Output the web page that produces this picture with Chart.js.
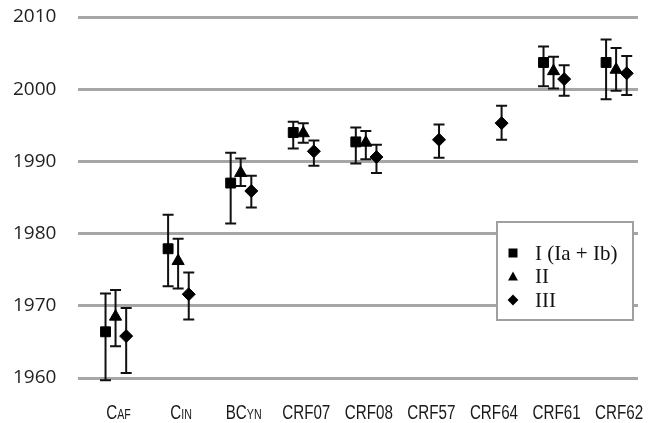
<!DOCTYPE html>
<html lang="en">
<head>
<meta charset="UTF-8">
<title>Dates by group</title>
<script src="https://cdn.jsdelivr.net/npm/chart.js"></script>
<style>
  html, body { margin: 0; padding: 0; background: #fff; }
  .chart-container { position: relative; width: 648px; height: 423px; }
</style>
</head>
<body>
<div class="chart-container"><canvas id="datesChart"></canvas></div>
<script>
// categories: main text + small-caps part (drawn smaller, like a subscript)
const categories   = ['CAF', 'CIN', 'BCYN', 'CRF07', 'CRF08', 'CRF57', 'CRF64', 'CRF61', 'CRF62'];
const categoryMain = ['C', 'C', 'BC', 'CRF07', 'CRF08', 'CRF57', 'CRF64', 'CRF61', 'CRF62'];
const categorySub  = ['AF', 'IN', 'YN', '', '', '', '', '', ''];

const seriesNames = ['I (Ia + Ib)', 'II', 'III'];

// series I (squares)
const seriesI     = [1966.4, 1977.9, 1987.0, 1994.0, 1992.7, null, null, 2003.7, 2003.7];
const seriesILow  = [1959.7, 1972.7, 1981.4, 1991.8, 1989.7, null, null, 2000.4, 1998.6];
const seriesIHigh = [1971.7, 1982.6, 1991.2, 1995.5, 1994.7, null, null, 2005.9, 2006.9];

// series II (triangles)
const seriesII     = [1968.5, 1976.2, 1988.4, 1993.9, 1992.6, null, null, 2002.5, 2002.7];
const seriesIILow  = [1964.4, 1972.4, 1986.6, 1992.6, 1990.3, null, null, 2000.1, 1999.8];
const seriesIIHigh = [1972.2, 1979.3, 1990.4, 1995.3, 1994.2, null, null, 2004.5, 2005.7];

// series III (diamonds)
const seriesIII     = [1965.8, 1971.6, 1985.9, 1991.4, 1990.6, 1993.0, 1995.3, 2001.4, 2002.2];
const seriesIIILow  = [1960.7, 1968.1, 1983.6, 1989.4, 1988.4, 1990.5, 1993.0, 1999.1, 1999.2];
const seriesIIIHigh = [1969.7, 1974.6, 1988.0, 1992.9, 1992.3, 1995.1, 1997.7, 2003.3, 2004.6];

const yTickValues = [1960, 1970, 1980, 1990, 2000, 2010];

// small horizontal shift of each series inside its category
const groupShift = [-0.16, 0, 0.17];
const pointStyles = ['rect', 'triangle', 'rectRot'];
const pointRadii = [7, 7, 6.5];

function buildPoints(values, low, high, shift) {
    const pts = [];
    values.forEach((v, i) => {
        if (v === null) return;
        pts.push({ x: i + shift, y: v, lo: low[i], hi: high[i] });
    });
    return pts;
}

const allSeries = [
    buildPoints(seriesI, seriesILow, seriesIHigh, groupShift[0]),
    buildPoints(seriesII, seriesIILow, seriesIIHigh, groupShift[1]),
    buildPoints(seriesIII, seriesIIILow, seriesIIIHigh, groupShift[2])
];

// error bars, drawn under the markers
const errorBars = {
    id: 'errorBars',
    beforeDatasetsDraw(chart) {
        const ctx = chart.ctx;
        const y = chart.scales.y;
        ctx.save();
        ctx.strokeStyle = '#111';
        ctx.lineWidth = 2;
        chart.data.datasets.forEach((ds, d) => {
            const meta = chart.getDatasetMeta(d);
            meta.data.forEach((el, j) => {
                const p = ds.data[j];
                const top = y.getPixelForValue(p.hi);
                const bot = y.getPixelForValue(p.lo);
                const cap = 5.5;
                ctx.beginPath();
                ctx.moveTo(el.x, top); ctx.lineTo(el.x, bot);
                ctx.moveTo(el.x - cap, top); ctx.lineTo(el.x + cap, top);
                ctx.moveTo(el.x - cap, bot); ctx.lineTo(el.x + cap, bot);
                ctx.stroke();
            });
        });
        ctx.restore();
    }
};

function drawMarker(ctx, style, x, y, s) {
    ctx.beginPath();
    if (style === 'rect') {
        ctx.rect(x - s / 2, y - s / 2, s, s);
    } else if (style === 'triangle') {
        ctx.moveTo(x, y - s * 0.55);
        ctx.lineTo(x + s * 0.55, y + s * 0.45);
        ctx.lineTo(x - s * 0.55, y + s * 0.45);
        ctx.closePath();
    } else {
        ctx.moveTo(x, y - s * 0.6);
        ctx.lineTo(x + s * 0.6, y);
        ctx.lineTo(x, y + s * 0.6);
        ctx.lineTo(x - s * 0.6, y);
        ctx.closePath();
    }
    ctx.fill();
}

// category labels with small caps part + boxed legend
const labelsAndLegend = {
    id: 'labelsAndLegend',
    afterDraw(chart) {
        const ctx = chart.ctx;
        const xs = chart.scales.x;
        const area = chart.chartArea;
        const bigFont = '20px "Liberation Sans", Arial, sans-serif';
        const smallFont = '14px "Liberation Sans", Arial, sans-serif';
        const squeeze = 0.76;
        const baseY = area.bottom + 41;

        ctx.save();
        ctx.fillStyle = '#1a1a1a';
        ctx.textBaseline = 'alphabetic';
        categories.forEach((c, i) => {
            ctx.font = bigFont;
            const wMain = ctx.measureText(categoryMain[i]).width;
            ctx.font = smallFont;
            const wSub = categorySub[i] ? ctx.measureText(categorySub[i]).width : 0;
            const total = (wMain + wSub) * squeeze;
            const cx = xs.getPixelForValue(i) + 3;
            ctx.save();
            ctx.translate(cx - total / 2, baseY);
            ctx.scale(squeeze, 1);
            ctx.font = bigFont;
            ctx.fillText(categoryMain[i], 0, 0);
            if (categorySub[i]) {
                ctx.font = smallFont;
                ctx.fillText(categorySub[i], wMain, 0);
            }
            ctx.restore();
        });
        ctx.restore();

        // legend box
        const left = 497, top = 222, w = 136, h = 98;
        ctx.save();
        ctx.fillStyle = '#fff';
        ctx.fillRect(left, top, w, h);
        ctx.strokeStyle = '#a0a0a0';
        ctx.lineWidth = 2;
        ctx.strokeRect(left, top, w, h);
        ctx.font = '21px "Liberation Serif", "Times New Roman", serif';
        ctx.textBaseline = 'middle';
        seriesNames.forEach((name, k) => {
            const ry = top + 31 + k * 23.5;
            ctx.fillStyle = '#000';
            drawMarker(ctx, pointStyles[k], left + 16, ry, 9);
            ctx.fillStyle = '#111';
            ctx.fillText(name, left + 38, ry + 1);
        });
        ctx.restore();
    }
};

const ctx = document.getElementById('datesChart').getContext('2d');
new Chart(ctx, {
    type: 'scatter',
    data: {
        datasets: allSeries.map((pts, k) => ({
            label: seriesNames[k],
            data: pts,
            pointStyle: pointStyles[k],
            pointRadius: pointRadii[k],
            pointHoverRadius: pointRadii[k],
            backgroundColor: '#000',
            borderColor: '#000',
            pointBorderWidth: 1
        }))
    },
    options: {
        responsive: true,
        maintainAspectRatio: false,
        animation: false,
        layout: { padding: { top: 17, right: 10, bottom: 45, left: 13 } },
        plugins: {
            legend: { display: false },
            tooltip: { enabled: false }
        },
        scales: {
            x: {
                type: 'linear',
                display: false,
                min: -0.6,
                max: 8.35
            },
            y: {
                min: 1960,
                max: 2010,
                afterFit(scale) { scale.width = 65; },
                afterBuildTicks(scale) {
                    scale.ticks = yTickValues.map(v => ({ value: v }));
                },
                border: { display: false },
                grid: {
                    color: '#a6a6a6',
                    lineWidth: 3,
                    drawTicks: false
                },
                ticks: {
                    padding: 0,
                    crossAlign: 'far',
                    color: '#222',
                    font: { family: '"Open Sans", "Liberation Sans", sans-serif', size: 19 },
                    callback: v => String(v)
                }
            }
        }
    },
    plugins: [errorBars, labelsAndLegend]
});
</script>
</body>
</html>
